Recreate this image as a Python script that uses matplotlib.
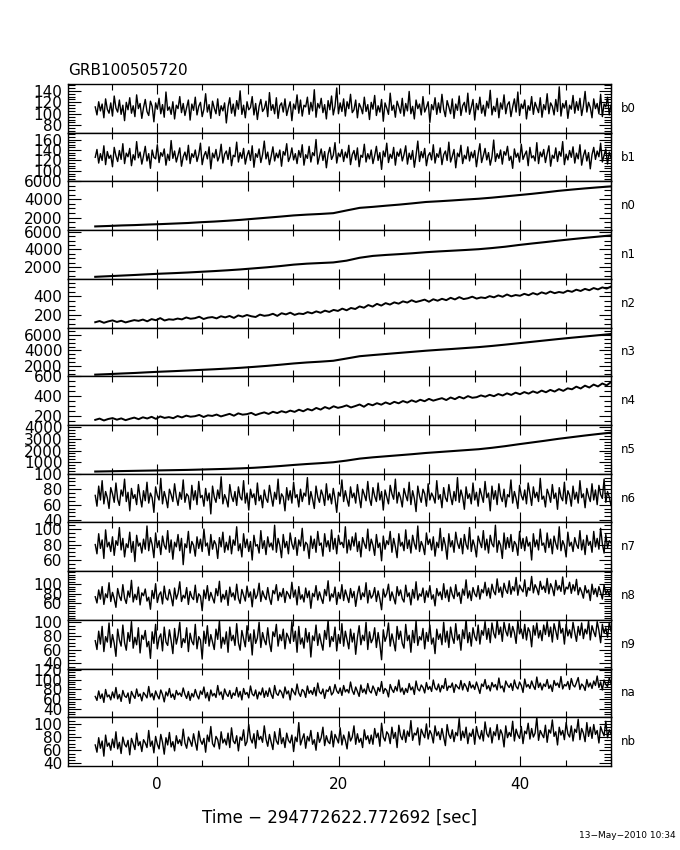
import numpy as np
import matplotlib.pyplot as plt
from matplotlib.ticker import AutoMinorLocator, MultipleLocator, FixedLocator

title = "GRB100505720"
xlabel = "Time \u2212 294772622.772692 [sec]"
stamp = "13\u2212May\u22122010 10:34"
t_start, t_end = -6.8, 50.0
xlim = (-9.8, 50.0)

detectors = ["b0", "b1", "n0", "n1", "n2", "n3", "n4", "n5",
             "n6", "n7", "n8", "n9", "na", "nb"]

# count rates, one value per time bin
b0 = [112, 98, 121, 105, 117, 93, 126, 108, 101, 119, 96, 131, 110, 103, 124, 99, 115, 88, 120, 107,
      128, 101, 114, 95, 133, 109, 118, 92, 111, 125, 104, 97, 122, 113, 86, 119, 108, 127, 100, 116,
      94, 138, 106, 112, 99, 121, 91, 115, 109, 130, 102, 118, 97, 111, 124, 89, 117, 106, 129, 98,
      113, 120, 95, 108, 135, 103, 116, 92, 122, 110, 100, 126, 97, 114, 105, 119, 84, 112, 128, 101,
      117, 96, 123, 108, 140, 99, 115, 93, 121, 107, 111, 130, 98, 118, 90, 113, 125, 104, 109, 122,
      95, 137, 106, 116, 100, 128, 92, 114, 119, 103, 126, 97, 110, 121, 88, 117, 108, 133, 101, 124,
      96, 115, 112, 129, 99, 120, 105, 142, 94, 118, 110, 127, 102, 116, 91, 123, 107, 131, 98, 113,
      145, 100, 119, 104, 126, 96, 121, 109, 134, 102, 107, 124, 93, 118, 111, 100, 129, 104, 116, 90,
      120, 108, 132, 97, 114, 103, 125, 87, 119, 110, 99, 136, 106, 115, 94, 122, 112, 101, 127, 96,
      118, 105, 139, 100, 113, 91, 124, 109, 117, 98, 130, 103, 111, 121, 85, 116, 107, 128, 99, 119,
      102, 134, 108, 95, 123, 112, 100, 126, 92, 117, 106, 131, 97, 114, 120, 103, 136, 99, 111, 125,
      89, 118, 107, 129, 101, 115, 96, 122, 110, 141, 98, 113, 104, 127, 93, 119, 108, 133, 100, 116,
      121, 95, 112, 126, 103, 138, 97, 117, 109, 124, 91, 114, 106, 130, 99, 120, 111, 102, 128, 94,
      116, 107, 135, 100, 119, 113, 98, 125, 104, 147, 96, 118, 110, 123, 92, 115, 108, 132, 101, 121,
      106, 127, 97, 114, 139, 103, 120, 111, 93, 126, 109, 118, 100, 134, 95, 117, 112, 129, 98, 115]
b1 = [126, 141, 115, 133, 120, 148, 112, 137, 124, 130, 108, 145, 129, 118, 139, 122, 152, 114, 134, 127,
      143, 110, 131, 121, 156, 125, 136, 113, 129, 147, 119, 133, 105, 140, 126, 123, 150, 116, 135, 128,
      142, 111, 132, 120, 158, 124, 138, 117, 130, 144, 109, 127, 136, 121, 149, 114, 133, 126, 140, 118,
      131, 153, 112, 129, 137, 123, 146, 104, 134, 125, 141, 119, 128, 151, 115, 132, 138, 122, 145, 110,
      130, 127, 155, 117, 135, 124, 143, 113, 129, 139, 120, 148, 107, 133, 126, 142, 116, 131, 157, 123,
      136, 112, 128, 146, 119, 134, 125, 140, 109, 137, 130, 152, 118, 127, 144, 121, 133, 114, 139, 126,
      150, 111, 131, 124, 147, 117, 135, 129, 160, 113, 128, 142, 120, 137, 106, 132, 145, 122, 130, 154,
      115, 134, 127, 141, 118, 136, 125, 149, 112, 131, 139, 121, 144, 108, 130, 126, 151, 117, 133, 123,
      140, 114, 129, 147, 120, 135, 103, 138, 127, 153, 116, 132, 124, 145, 111, 136, 128, 142, 119, 131,
      148, 113, 134, 122, 139, 107, 130, 157, 118, 137, 125, 143, 110, 129, 135, 121, 150, 115, 133, 126,
      144, 112, 131, 138, 120, 155, 117, 128, 141, 106, 134, 127, 149, 114, 130, 123, 146, 119, 136, 125,
      139, 108, 132, 152, 116, 129, 143, 121, 135, 111, 127, 159, 118, 133, 124, 140, 113, 137, 130, 147,
      120, 128, 105, 142, 126, 134, 117, 151, 122, 131, 138, 110, 145, 125, 129, 119, 154, 114, 136, 127,
      141, 116, 133, 148, 109, 130, 124, 144, 118, 137, 128, 156, 112, 132, 121, 139, 126, 146, 115, 134,
      123, 150, 111, 129, 140, 119, 135, 104, 131, 145, 122, 138, 127, 153, 117, 130, 142, 113, 136, 125]
n0 = [1010, 1060, 1120, 1160, 1220, 1270, 1330, 1390, 1480, 1550, 1640, 1740, 1860, 1980, 2100, 2230,
      2320, 2390, 2480, 2780, 3070, 3180, 3310, 3430, 3570, 3720, 3800, 3890, 3990, 4080, 4200, 4340,
      4480, 4620, 4780, 4950, 5090, 5220, 5340, 5450]
n1 = [890, 960, 1030, 1100, 1180, 1250, 1310, 1380, 1460, 1540, 1630, 1730, 1850, 1970, 2110, 2270,
      2380, 2450, 2520, 2720, 3050, 3260, 3370, 3460, 3560, 3680, 3770, 3850, 3930, 4020, 4150, 4300,
      4490, 4660, 4820, 4990, 5150, 5300, 5440, 5580]
n2 = [118, 131, 112, 127, 138, 121, 134, 116, 129, 141, 133, 147, 128, 152, 140, 163, 137, 150, 145, 158,
      149, 170, 156, 162, 178, 153, 168, 174, 160, 183, 171, 186, 165, 192, 179, 197, 183, 175, 201, 188,
      194, 210, 187, 216, 203, 222, 198, 213, 207, 228, 215, 236, 221, 244, 230, 252, 241, 266, 248, 273,
      262, 290, 276, 305, 288, 318, 299, 326, 310, 334, 320, 345, 332, 357, 338, 350, 364, 341, 368, 352,
      373, 358, 384, 366, 391, 370, 379, 396, 375, 388, 381, 402, 389, 410, 395, 420, 400, 414, 406, 427,
      412, 435, 419, 443, 428, 452, 434, 447, 438, 461, 449, 472, 458, 481, 466, 490, 475, 497, 484, 506]
n3 = [860, 930, 1010, 1080, 1170, 1250, 1320, 1400, 1480, 1560, 1650, 1750, 1870, 2000, 2150, 2310,
      2440, 2540, 2660, 2950, 3250, 3400, 3540, 3680, 3820, 3960, 4080, 4190, 4310, 4430, 4580, 4750,
      4930, 5110, 5290, 5470, 5640, 5800, 5960, 6120]
n4 = [158, 171, 152, 167, 176, 160, 173, 155, 169, 181, 165, 184, 172, 189, 168, 193, 178, 186, 175, 197,
      183, 201, 190, 195, 208, 187, 204, 198, 212, 193, 206, 219, 200, 224, 211, 216, 229, 207, 222, 234,
      218, 240, 227, 246, 233, 252, 239, 261, 245, 268, 254, 279, 262, 288, 271, 296, 280, 290, 305, 284,
      298, 314, 291, 320, 306, 327, 312, 335, 318, 341, 326, 349, 333, 356, 340, 362, 347, 371, 353, 366,
      378, 359, 385, 368, 392, 375, 399, 382, 388, 406, 393, 412, 398, 420, 405, 427, 411, 434, 418, 440,
      424, 447, 431, 455, 438, 462, 445, 470, 452, 478, 468, 495, 476, 505, 486, 516, 497, 527, 508, 541]
n5 = [210, 230, 250, 270, 290, 310, 330, 350, 380, 410, 440, 480, 530, 600, 680, 770,
      850, 920, 1000, 1140, 1310, 1420, 1510, 1600, 1690, 1790, 1870, 1950, 2030, 2110, 2230, 2370,
      2530, 2680, 2830, 2990, 3130, 3270, 3400, 3520]
n6 = [72, 58, 84, 66, 91, 61, 77, 69, 55, 82, 74, 63, 88, 67, 59, 79, 71, 93, 64, 76,
      52, 81, 68, 73, 60, 86, 70, 57, 78, 65, 89, 62, 75, 69, 50, 83, 72, 66, 94, 61,
      77, 68, 56, 80, 73, 64, 87, 70, 59, 76, 67, 92, 63, 74, 71, 54, 85, 66, 78, 60,
      90, 69, 72, 58, 81, 65, 75, 48, 84, 70, 63, 79, 68, 96, 61, 73, 67, 57, 86, 71,
      64, 77, 59, 83, 70, 66, 91, 62, 75, 53, 80, 69, 74, 60, 88, 65, 72, 56, 79, 68,
      63, 85, 71, 58, 76, 67, 93, 61, 74, 70, 52, 82, 66, 78, 62, 89, 69, 73, 57, 80,
      64, 75, 71, 95, 60, 77, 67, 55, 84, 70, 63, 79, 72, 59, 87, 66, 74, 61, 81, 68,
      50, 76, 71, 92, 64, 78, 67, 58, 83, 69, 75, 62, 86, 70, 56, 80, 73, 65, 90, 68,
      59, 82, 71, 64, 88, 66, 77, 53, 79, 70, 61, 85, 74, 67, 93, 62, 76, 69, 57, 81,
      72, 65, 89, 60, 78, 68, 51, 84, 71, 63, 80, 74, 58, 87, 66, 75, 70, 62, 91, 67,
      73, 56, 82, 69, 64, 86, 71, 60, 77, 65, 95, 63, 79, 70, 54, 83, 68, 74, 61, 88,
      66, 76, 58, 81, 72, 63, 90, 69, 75, 52, 84, 67, 78, 60, 87, 71, 64, 80, 57, 73,
      70, 92, 62, 77, 68, 55, 85, 72, 66, 79, 61, 88, 74, 59, 83, 69, 76, 64, 94, 67,
      71, 57, 80, 73, 63, 86, 68, 75, 54, 82, 70, 65, 89, 61, 78, 72, 58, 84, 67, 76,
      62, 91, 69, 74, 56, 81, 71, 64, 87, 66, 79, 60, 85, 73, 68, 93, 63, 77, 70, 59]
n7 = [80, 68, 94, 75, 86, 62, 99, 77, 83, 71, 90, 66, 85, 79, 102, 73, 88, 64, 81, 76,
      96, 70, 84, 58, 92, 78, 82, 69, 87, 74, 104, 72, 89, 80, 63, 95, 76, 85, 67, 91,
      79, 74, 98, 70, 86, 61, 83, 77, 93, 72, 88, 54, 81, 76, 97, 69, 84, 79, 65, 90,
      75, 87, 71, 100, 78, 82, 66, 93, 74, 85, 80, 62, 89, 77, 96, 70, 83, 73, 91, 68,
      86, 79, 103, 72, 81, 64, 94, 76, 87, 71, 84, 60, 92, 78, 80, 69, 98, 75, 85, 67,
      90, 77, 82, 73, 105, 70, 88, 79, 63, 93, 76, 84, 68, 95, 81, 74, 89, 66, 86, 78,
      101, 72, 83, 80, 62, 91, 75, 87, 70, 97, 79, 82, 65, 94, 77, 85, 71, 99, 74, 88,
      68, 92, 80, 83, 76, 103, 69, 86, 73, 90, 78, 95, 71, 84, 64, 89, 81, 75, 100, 72,
      87, 79, 66, 93, 76, 82, 59, 91, 74, 85, 80, 97, 70, 88, 77, 63, 94, 78, 83, 72,
      99, 75, 86, 69, 92, 81, 74, 104, 71, 84, 78, 67, 95, 80, 87, 73, 90, 65, 83, 76,
      101, 72, 89, 79, 61, 94, 77, 85, 70, 96, 82, 75, 88, 68, 93, 80, 74, 102, 71, 86,
      78, 64, 91, 83, 76, 98, 73, 87, 69, 92, 81, 77, 105, 70, 85, 79, 62, 95, 74, 89,
      76, 93, 71, 84, 80, 66, 97, 75, 88, 72, 90, 78, 83, 60, 94, 77, 86, 73, 100, 79,
      82, 70, 95, 76, 87, 68, 91, 81, 74, 103, 72, 85, 79, 64, 96, 78, 83, 71, 89, 80,
      75, 98, 73, 86, 67, 92, 79, 84, 70, 97, 77, 88, 74, 101, 81, 69, 93, 76, 85, 82]
n8 = [74, 61, 88, 69, 95, 58, 80, 72, 103, 64, 83, 70, 52, 91, 75, 66, 99, 71, 60, 86,
      73, 108, 63, 79, 68, 94, 57, 82, 76, 90, 65, 73, 48, 87, 70, 101, 62, 78, 84, 59,
      96, 72, 67, 89, 74, 55, 92, 69, 81, 105, 64, 77, 71, 93, 58, 85, 73, 68, 98, 62,
      80, 75, 45, 88, 70, 97, 66, 83, 72, 61, 91, 76, 106, 63, 79, 69, 87, 56, 94, 74,
      82, 67, 100, 71, 60, 89, 77, 65, 96, 73, 84, 53, 90, 70, 78, 102, 64, 86, 75, 68,
      93, 71, 58, 87, 80, 99, 66, 83, 74, 91, 62, 85, 79, 70, 104, 73, 88, 57, 95, 69,
      78, 63, 92, 72, 86, 50, 81, 74, 97, 67, 84, 71, 60, 89, 76, 107, 65, 80, 73, 94,
      58, 83, 70, 99, 66, 88, 75, 62, 91, 72, 85, 54, 79, 96, 68, 82, 74, 103, 61, 87,
      71, 77, 93, 64, 86, 69, 47, 90, 73, 81, 100, 66, 84, 72, 59, 95, 76, 88, 70, 63,
      98, 74, 82, 57, 89, 71, 105, 67, 80, 75, 92, 62, 86, 73, 97, 69, 78, 55, 91, 76,
      84, 68, 101, 72, 88, 64, 94, 79, 70, 99, 75, 83, 60, 90, 77, 109, 71, 86, 66, 93,
      80, 74, 97, 69, 89, 82, 104, 76, 92, 71, 100, 85, 78, 111, 83, 94, 73, 102, 88, 81,
      107, 79, 95, 86, 114, 77, 98, 90, 84, 109, 75, 93, 87, 116, 82, 99, 91, 78, 106, 89,
      96, 83, 112, 80, 101, 92, 76, 108, 88, 97, 85, 115, 79, 94, 90, 104, 81, 99, 86, 110,
      78, 93, 84, 71, 97, 82, 88, 66, 100, 79, 91, 74, 95, 83, 69, 98, 80, 87, 76, 92]
n9 = [73, 60, 87, 68, 94, 57, 79, 71, 99, 63, 82, 69, 50, 90, 74, 65, 96, 70, 59, 85,
      72, 101, 62, 78, 67, 92, 55, 81, 75, 88, 64, 72, 47, 86, 69, 97, 61, 77, 83, 58,
      93, 71, 66, 89, 73, 54, 91, 68, 80, 100, 63, 76, 70, 92, 57, 84, 72, 67, 97, 61,
      79, 74, 46, 87, 69, 95, 65, 82, 71, 60, 90, 75, 102, 62, 78, 68, 86, 56, 93, 73,
      81, 66, 98, 70, 59, 88, 76, 64, 95, 72, 83, 52, 89, 69, 77, 100, 63, 85, 74, 67,
      92, 70, 57, 86, 79, 97, 65, 82, 73, 90, 61, 84, 78, 69, 101, 72, 87, 56, 94, 68,
      77, 62, 91, 71, 85, 49, 80, 73, 96, 66, 83, 70, 59, 88, 75, 103, 64, 79, 72, 93,
      58, 82, 69, 98, 65, 87, 74, 61, 90, 71, 84, 53, 78, 95, 67, 81, 73, 100, 60, 86,
      70, 76, 92, 63, 85, 68, 45, 89, 72, 80, 99, 65, 83, 71, 58, 94, 75, 87, 69, 62,
      97, 73, 81, 56, 88, 70, 102, 66, 79, 74, 91, 61, 85, 72, 96, 68, 77, 54, 90, 75,
      83, 67, 100, 71, 87, 63, 93, 78, 69, 98, 74, 82, 59, 89, 76, 104, 70, 85, 65, 92,
      79, 73, 96, 68, 88, 81, 101, 75, 91, 70, 99, 84, 77, 103, 82, 93, 72, 100, 87, 80,
      98, 78, 94, 85, 69, 102, 83, 90, 76, 97, 74, 92, 86, 64, 95, 81, 99, 77, 88, 73,
      96, 82, 101, 79, 93, 71, 98, 87, 75, 103, 84, 91, 68, 97, 80, 89, 77, 100, 85, 72,
      94, 81, 99, 76, 90, 83, 102, 74, 95, 86, 79, 101, 88, 70, 97, 84, 92, 78, 100, 87]
na = [66, 58, 77, 62, 71, 54, 80, 65, 69, 59, 75, 63, 84, 61, 70, 56, 78, 67, 64, 73,
      52, 76, 68, 62, 81, 66, 71, 57, 74, 69, 63, 86, 65, 72, 59, 77, 68, 61, 79, 70,
      55, 75, 67, 82, 64, 71, 60, 78, 69, 73, 66, 83, 70, 62, 76, 58, 72, 65, 80, 68,
      61, 77, 70, 85, 63, 74, 57, 79, 67, 72, 64, 88, 69, 75, 60, 81, 71, 66, 78, 62,
      73, 68, 84, 65, 76, 59, 82, 70, 74, 63, 87, 71, 67, 79, 61, 75, 69, 83, 64, 77,
      66, 83, 70, 62, 88, 72, 68, 79, 74, 63, 85, 71, 77, 59, 82, 75, 69, 91, 73, 66,
      80, 76, 64, 87, 72, 78, 70, 84, 67, 93, 75, 71, 81, 62, 79, 76, 86, 69, 74, 90,
      77, 72, 83, 68, 88, 75, 80, 73, 95, 78, 70, 85, 76, 66, 89, 74, 81, 71, 92, 77,
      73, 87, 79, 68, 84, 76, 96, 72, 82, 78, 65, 90, 80, 74, 86, 77, 99, 75, 83, 70,
      82, 74, 92, 79, 85, 70, 97, 81, 77, 89, 84, 73, 94, 80, 86, 76, 99, 83, 79, 91,
      75, 88, 82, 102, 78, 87, 84, 93, 74, 90, 85, 81, 98, 79, 92, 86, 76, 96, 83, 89,
      80, 95, 84, 72, 91, 86, 100, 81, 88, 77, 94, 85, 90, 79, 103, 83, 87, 75, 97, 89,
      84, 92, 78, 99, 86, 81, 95, 88, 74, 101, 85, 90, 82, 97, 87, 80, 105, 84, 93, 79,
      91, 86, 100, 82, 89, 76, 98, 88, 93, 84, 106, 81, 90, 87, 96, 80, 102, 89, 85, 94,
      104, 80, 91, 87, 78, 100, 85, 93, 82, 97, 88, 107, 84, 95, 79, 99, 90, 86, 103, 92]
nb = [68, 57, 79, 63, 74, 51, 83, 66, 71, 60, 77, 64, 88, 62, 72, 55, 80, 69, 65, 75,
      53, 78, 70, 61, 86, 67, 73, 58, 76, 71, 64, 90, 66, 74, 56, 81, 69, 62, 84, 72,
      54, 79, 68, 87, 65, 73, 59, 82, 70, 76, 67, 92, 71, 63, 80, 74, 66, 85, 72, 60,
      89, 75, 69, 78, 57, 83, 73, 96, 70, 65, 81, 76, 62, 88, 71, 77, 68, 86, 64, 94,
      74, 70, 82, 59, 80, 75, 91, 67, 73, 99, 78, 71, 85, 63, 90, 76, 81, 72, 97, 77,
      66, 84, 72, 61, 88, 74, 69, 93, 70, 79, 64, 86, 75, 71, 83, 58, 80, 73, 102, 68,
      77, 85, 63, 81, 74, 90, 69, 76, 60, 87, 72, 79, 95, 67, 82, 73, 70, 89, 65, 84,
      78, 71, 94, 68, 83, 75, 62, 88, 74, 80, 97, 69, 85, 72, 78, 64, 91, 76, 82, 70,
      83, 69, 93, 79, 86, 66, 101, 80, 74, 88, 84, 70, 95, 78, 87, 64, 98, 82, 76, 91,
      72, 89, 81, 105, 75, 86, 83, 94, 68, 92, 85, 79, 100, 77, 90, 84, 71, 97, 82, 88,
      76, 93, 80, 67, 99, 84, 78, 91, 73, 87, 82, 108, 75, 89, 79, 95, 70, 86, 81, 92,
      69, 96, 83, 77, 90, 74, 103, 85, 80, 94, 71, 88, 82, 99, 76, 91, 84, 65, 97, 79,
      87, 81, 104, 74, 92, 83, 78, 96, 70, 89, 85, 101, 77, 93, 80, 86, 110, 75, 90, 84,
      79, 98, 72, 91, 86, 106, 81, 88, 68, 95, 83, 90, 76, 102, 85, 80, 97, 74, 92, 87,
      107, 76, 93, 86, 73, 102, 81, 95, 78, 99, 84, 90, 71, 96, 88, 82, 104, 79, 91, 85]

rates = [b0, b1, n0, n1, n2, n3, n4, n5, n6, n7, n8, n9, na, nb]

ylims = [(67, 152), (80, 173), (600, 6000), (660, 6180), (60, 590), (650, 6960), (106, 600),
         (25, 4170), (37, 100), (45.6, 108.6), (26, 127), (32, 103.6), (24, 122), (36, 110)]
yticks = [[80, 100, 120, 140], [100, 120, 140, 160], [2000, 4000, 6000], [2000, 4000, 6000],
          [200, 400], [2000, 4000, 6000], [200, 400, 600], [1000, 2000, 3000, 4000],
          [40, 60, 80, 100], [60, 80, 100], [60, 80, 100], [40, 60, 80, 100],
          [40, 60, 80, 100, 120], [40, 60, 80, 100]]

plt.rcParams['font.family'] = 'DejaVu Sans'

fig = plt.figure(figsize=(6.8, 8.5), dpi=100)
axes = fig.subplots(len(detectors), 1, sharex=True, gridspec_kw=dict(hspace=0))
fig.subplots_adjust(left=0.1, right=0.8985, top=0.9012, bottom=0.0988)

for ax, name, vals, yl, yt in zip(axes, detectors, rates, ylims, yticks):
    t = np.linspace(t_start, t_end, len(vals))
    if len(vals) < 60:
        lw = 1.5
    elif len(vals) < 200:
        lw = 1.4
    else:
        lw = 1.0
    ax.plot(t, vals, color='black', lw=lw)
    ax.set_ylim(*yl)
    ax.yaxis.set_major_locator(FixedLocator(yt))
    ax.yaxis.set_minor_locator(AutoMinorLocator(4))
    ax.tick_params(axis='y', which='both', direction='in', left=True, right=True,
                   labelsize=11, pad=4)
    ax.tick_params(axis='y', which='major', length=9, width=0.8)
    ax.tick_params(axis='y', which='minor', length=5, width=0.8)
    ax.tick_params(axis='x', which='both', direction='in', top=True, bottom=True, width=0.8)
    ax.tick_params(axis='x', which='major', length=7)
    ax.tick_params(axis='x', which='minor', length=4)
    for s in ax.spines.values():
        s.set_linewidth(1.0)
    ax.text(1.018, 0.5, name, transform=ax.transAxes, fontsize=8.5, va='center', ha='left')

ax = axes[-1]
ax.set_xlim(*xlim)
ax.xaxis.set_major_locator(MultipleLocator(10))
ax.xaxis.set_minor_locator(MultipleLocator(5))
ax.xaxis.set_major_formatter(lambda v, p: "%d" % v if round(v) % 20 == 0 else "")
ax.tick_params(axis='x', labelsize=11, pad=8)
ax.set_xlabel(xlabel, fontsize=12, labelpad=12)

fig.text(0.1, 0.908, title, fontsize=11, ha='left', va='bottom')
fig.text(0.993, 0.012, stamp, fontsize=6.5, ha='right', va='bottom')

fig.savefig("out.png", dpi=100)
